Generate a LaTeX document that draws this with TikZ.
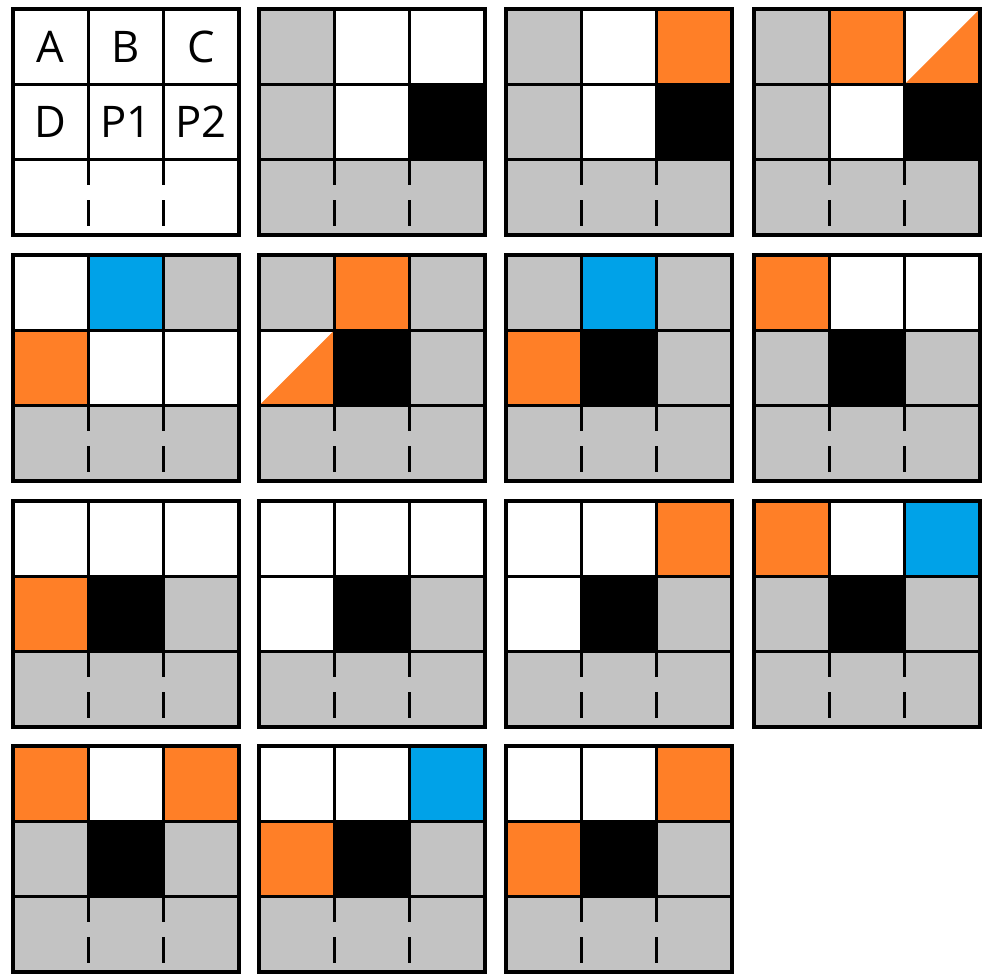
\documentclass[tikz,border=0pt]{standalone}
\usepackage{fontspec}
\setmainfont{Open Sans}
\definecolor{pgray}{HTML}{C3C3C3}
\definecolor{porange}{HTML}{FF7F27}
\definecolor{pblue}{HTML}{00A2E8}
\tikzset{
  grid line/.style={line width=0.75mm},
  tile border/.style={line width=1mm},
  halfcell/.style={fill=white,path picture={\fill[porange] (path picture bounding box.south west) -- (path picture bounding box.south east) -- (path picture bounding box.north east) -- cycle;}}
}
\newcommand{\drawtile}[3]{%
\begin{scope}[shift={(#1,#2)}]
\foreach \c [count=\i from 0] in {#3} {
  \pgfmathtruncatemacro{\row}{\i/3}
  \pgfmathtruncatemacro{\col}{mod(\i,3)}
  \fill[\c] (\col*75.33,\row*75.33) rectangle ++(75.33,75.33);
}
\draw[grid line] (0,75.33) -- (226,75.33) (0,150.67) -- (226,150.67);
\draw[grid line] (75.33,0) -- (75.33,176) (75.33,191) -- (75.33,217);
\draw[grid line] (150.67,0) -- (150.67,176) (150.67,191) -- (150.67,217);
\draw[tile border] (0,0) rectangle (226,226);
\end{scope}}
\begin{document}
\begin{tikzpicture}[x=0.25mm,y=-0.25mm,every node/.style={font=\fontsize{31}{37}\selectfont,inner sep=1pt}]
\useasboundingbox (0,0) rectangle (984,974);
\drawtile{13}{9}{white,white,white,white,white,white,white,white,white}
\drawtile{259}{9}{pgray,white,white,pgray,white,black,pgray,pgray,pgray}
\drawtile{506}{9}{pgray,white,porange,pgray,white,black,pgray,pgray,pgray}
\drawtile{754}{9}{pgray,porange,halfcell,pgray,white,black,pgray,pgray,pgray}
\drawtile{13}{255}{white,pblue,pgray,porange,white,white,pgray,pgray,pgray}
\drawtile{259}{255}{pgray,porange,pgray,halfcell,black,pgray,pgray,pgray,pgray}
\drawtile{506}{255}{pgray,pblue,pgray,porange,black,pgray,pgray,pgray,pgray}
\drawtile{754}{255}{porange,white,white,pgray,black,pgray,pgray,pgray,pgray}
\drawtile{13}{501}{white,white,white,porange,black,pgray,pgray,pgray,pgray}
\drawtile{259}{501}{white,white,white,white,black,pgray,pgray,pgray,pgray}
\drawtile{506}{501}{white,white,porange,white,black,pgray,pgray,pgray,pgray}
\drawtile{754}{501}{porange,white,pblue,pgray,black,pgray,pgray,pgray,pgray}
\drawtile{13}{746}{porange,white,porange,pgray,black,pgray,pgray,pgray,pgray}
\drawtile{259}{746}{white,white,pblue,porange,black,pgray,pgray,pgray,pgray}
\drawtile{506}{746}{white,white,porange,porange,black,pgray,pgray,pgray,pgray}
\node (A) at (50.7,46.7) {A};
\node (B) at (126,46.7) {B};
\node (C) at (201.3,46.7) {C};
\node (D) at (50.7,122) {D};
\node (P1) at (126,122) {P1};
\node (P2) at (201.3,122) {P2};
\end{tikzpicture}
\end{document}
